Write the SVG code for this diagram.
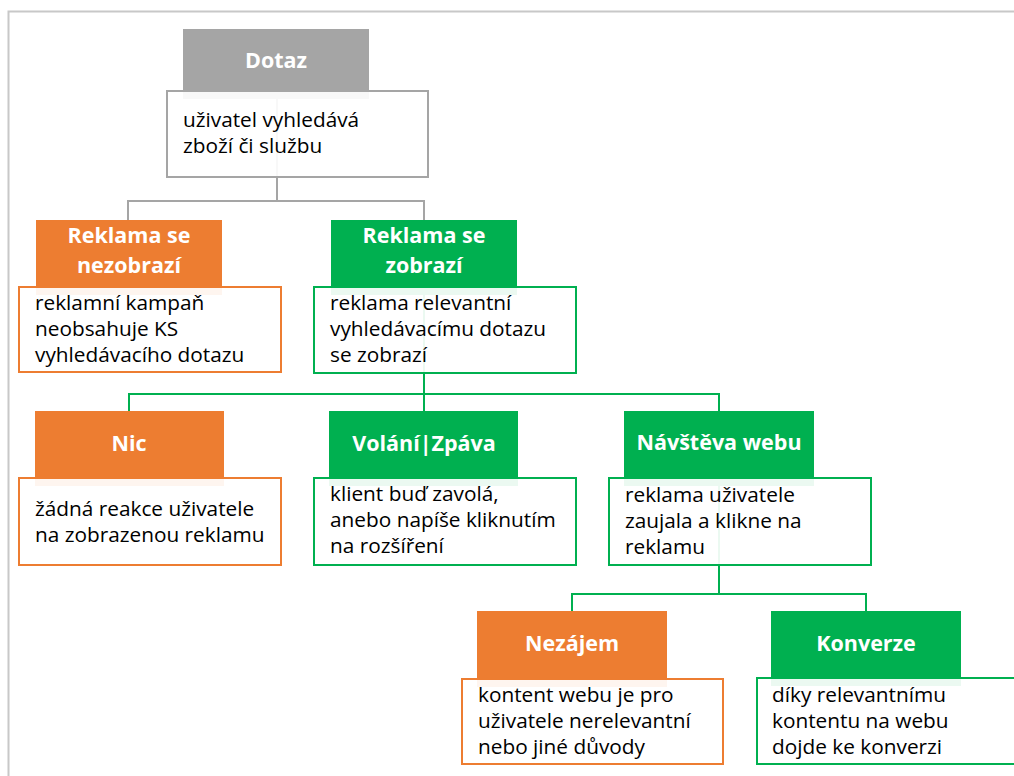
<svg xmlns="http://www.w3.org/2000/svg" width="1014" height="776" viewBox="0 0 1014 776">
<style>
.hd{font-family:"Open Sans","Noto Sans","Liberation Sans",sans-serif;font-weight:bold;font-size:21.5px;fill:#fff;text-anchor:middle}
.tx{font-family:"Open Sans","Noto Sans","Liberation Sans",sans-serif;font-size:20.8px;fill:#000}
.body{fill:#fff;fill-opacity:0.92;stroke-width:2}
.g{fill:#a5a5a5}.o{fill:#ed7d31}.n{fill:#00b050}
.bg{stroke:#a5a5a5}.bo{stroke:#ed7d31}.bn{stroke:#00b050}
.c{fill:none;stroke-width:2}
</style>
<rect width="1014" height="776" fill="#fff"/>
<path d="M8.5 776V11.5H1014" fill="none" stroke="#c8c8c8" stroke-width="2"/>
<g id="connectors">
<path class="c" stroke="#a5a5a5" d="M277 99V201M128 220V201H424V220"/>
<path class="c" stroke="#00b050" d="M424 294V394M129 411V394H719V411M424 394V411"/>
<path class="c" stroke="#00b050" d="M719 486V594M572 611V594H866V611"/>
</g>
<g id="dotaz">
<rect class="g" x="183" y="29" width="186" height="70"/>
<rect class="body bg" x="167" y="91" width="261" height="86"/>
<text class="hd" x="276" y="68">Dotaz</text>
<text class="tx" x="183" y="127">uživatel vyhledává</text>
<text class="tx" x="183" y="153">zboží či službu</text>
</g>
<g id="nezobrazi">
<rect class="o" x="36" y="220" width="186" height="75"/>
<rect class="body bo" x="19" y="287" width="262" height="85"/>
<text class="hd" x="129" y="243">Reklama se</text>
<text class="hd" x="129" y="273">nezobrazí</text>
<text class="tx" x="35" y="310">reklamní kampaň</text>
<text class="tx" x="35" y="336">neobsahuje KS</text>
<text class="tx" x="35" y="362">vyhledávacího dotazu</text>
</g>
<g id="zobrazi">
<rect class="n" x="331" y="220" width="186" height="75"/>
<rect class="body bn" x="314" y="287" width="262" height="86"/>
<text class="hd" x="424" y="243">Reklama se</text>
<text class="hd" x="424" y="273">zobrazí</text>
<text class="tx" x="330" y="310">reklama relevantní</text>
<text class="tx" x="330" y="336">vyhledávacímu dotazu</text>
<text class="tx" x="330" y="362">se zobrazí</text>
</g>
<g id="nic">
<rect class="o" x="35" y="411" width="189" height="75"/>
<rect class="body bo" x="19" y="478" width="262" height="87"/>
<text class="hd" x="129" y="451">Nic</text>
<text class="tx" x="35" y="516">žádná reakce uživatele</text>
<text class="tx" x="35" y="542">na zobrazenou reklamu</text>
</g>
<g id="volani">
<rect class="n" x="329" y="411" width="189" height="75"/>
<rect class="body bn" x="314" y="478" width="262" height="87"/>
<text class="hd" x="424" y="451">Volání|Zpáva</text>
<text class="tx" x="330" y="501">klient buď zavolá,</text>
<text class="tx" x="330" y="527">anebo napíše kliknutím</text>
<text class="tx" x="330" y="553">na rozšíření</text>
</g>
<g id="navsteva">
<rect class="n" x="624" y="411" width="190" height="75"/>
<rect class="body bn" x="609" y="478" width="262" height="87"/>
<text class="hd" x="719" y="450">Návštěva webu</text>
<text class="tx" x="625" y="502">reklama uživatele</text>
<text class="tx" x="625" y="528">zaujala a klikne na</text>
<text class="tx" x="625" y="554">reklamu</text>
</g>
<g id="nezajem">
<rect class="o" x="477" y="611" width="190" height="76"/>
<rect class="body bo" x="462" y="679" width="261" height="85"/>
<text class="hd" x="572" y="651">Nezájem</text>
<text class="tx" x="478" y="702">kontent webu je pro</text>
<text class="tx" x="478" y="728">uživatele nerelevantní</text>
<text class="tx" x="478" y="754">nebo jiné důvody</text>
</g>
<g id="konverze">
<rect class="n" x="771" y="611" width="190" height="75"/>
<rect class="body bn" x="757" y="678" width="262" height="86"/>
<text class="hd" x="866" y="651">Konverze</text>
<text class="tx" x="772" y="702">díky relevantnímu</text>
<text class="tx" x="772" y="728">kontentu na webu</text>
<text class="tx" x="772" y="754">dojde ke konverzi</text>
</g>
</svg>
